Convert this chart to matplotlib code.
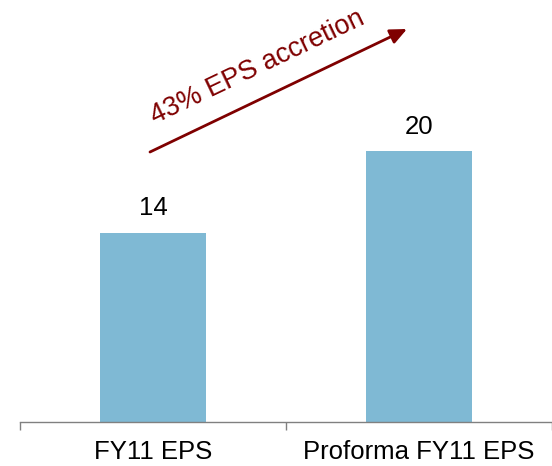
import matplotlib
matplotlib.use("Agg")
import matplotlib.pyplot as plt

categories = ["FY11 EPS", "Proforma FY11 EPS"]
values = [14, 20]
value_labels = ["14", "20"]
annotation = "43% EPS accretion"

plt.rcParams['font.family'] = ['Liberation Sans', 'DejaVu Sans']

fig = plt.figure(figsize=(5.52, 4.66), dpi=100)
ax = fig.add_axes([20/552, 44/466, 532/552, 422/466])

x = list(range(len(categories)))
ax.bar(x, values, width=0.4, color="#7FB9D4")
for xi, v, lab in zip(x, values, value_labels):
    ax.text(xi, v + 0.95, lab, ha="center", va="bottom", fontsize=18.5, color="black")

ax.set_xlim(-0.5, 1.5)
ax.set_ylim(0, 31.2)
for s in ["top", "right", "left"]:
    ax.spines[s].set_visible(False)
ax.spines["bottom"].set_color("#808080")
ax.spines["bottom"].set_linewidth(1.0)
ax.set_yticks([])
ax.set_xticks(x)
ax.set_xticklabels(categories, fontsize=18.5)
ax.tick_params(axis="x", which="major", length=0, pad=13)
ax.set_xticks([-0.5, 0.5, 1.5], minor=True)
ax.tick_params(axis="x", which="minor", length=6, color="#808080", width=1.0)

def fp(px, py):
    return (px/552, 1 - py/466)

arr_color = "#7F0000"
ax.annotate("", xy=fp(407, 29), xytext=fp(150, 152),
            xycoords="figure fraction", textcoords="figure fraction",
            arrowprops=dict(arrowstyle="-|>,head_length=1.0,head_width=0.45",
                            color=arr_color, lw=2.0, shrinkA=0, shrinkB=0),
            annotation_clip=False)
fig.text(*fp(257, 67), annotation, rotation=25.5, ha="center", va="center",
         fontsize=19.5, color=arr_color, rotation_mode="anchor")

fig.savefig("out.png", dpi=100)
